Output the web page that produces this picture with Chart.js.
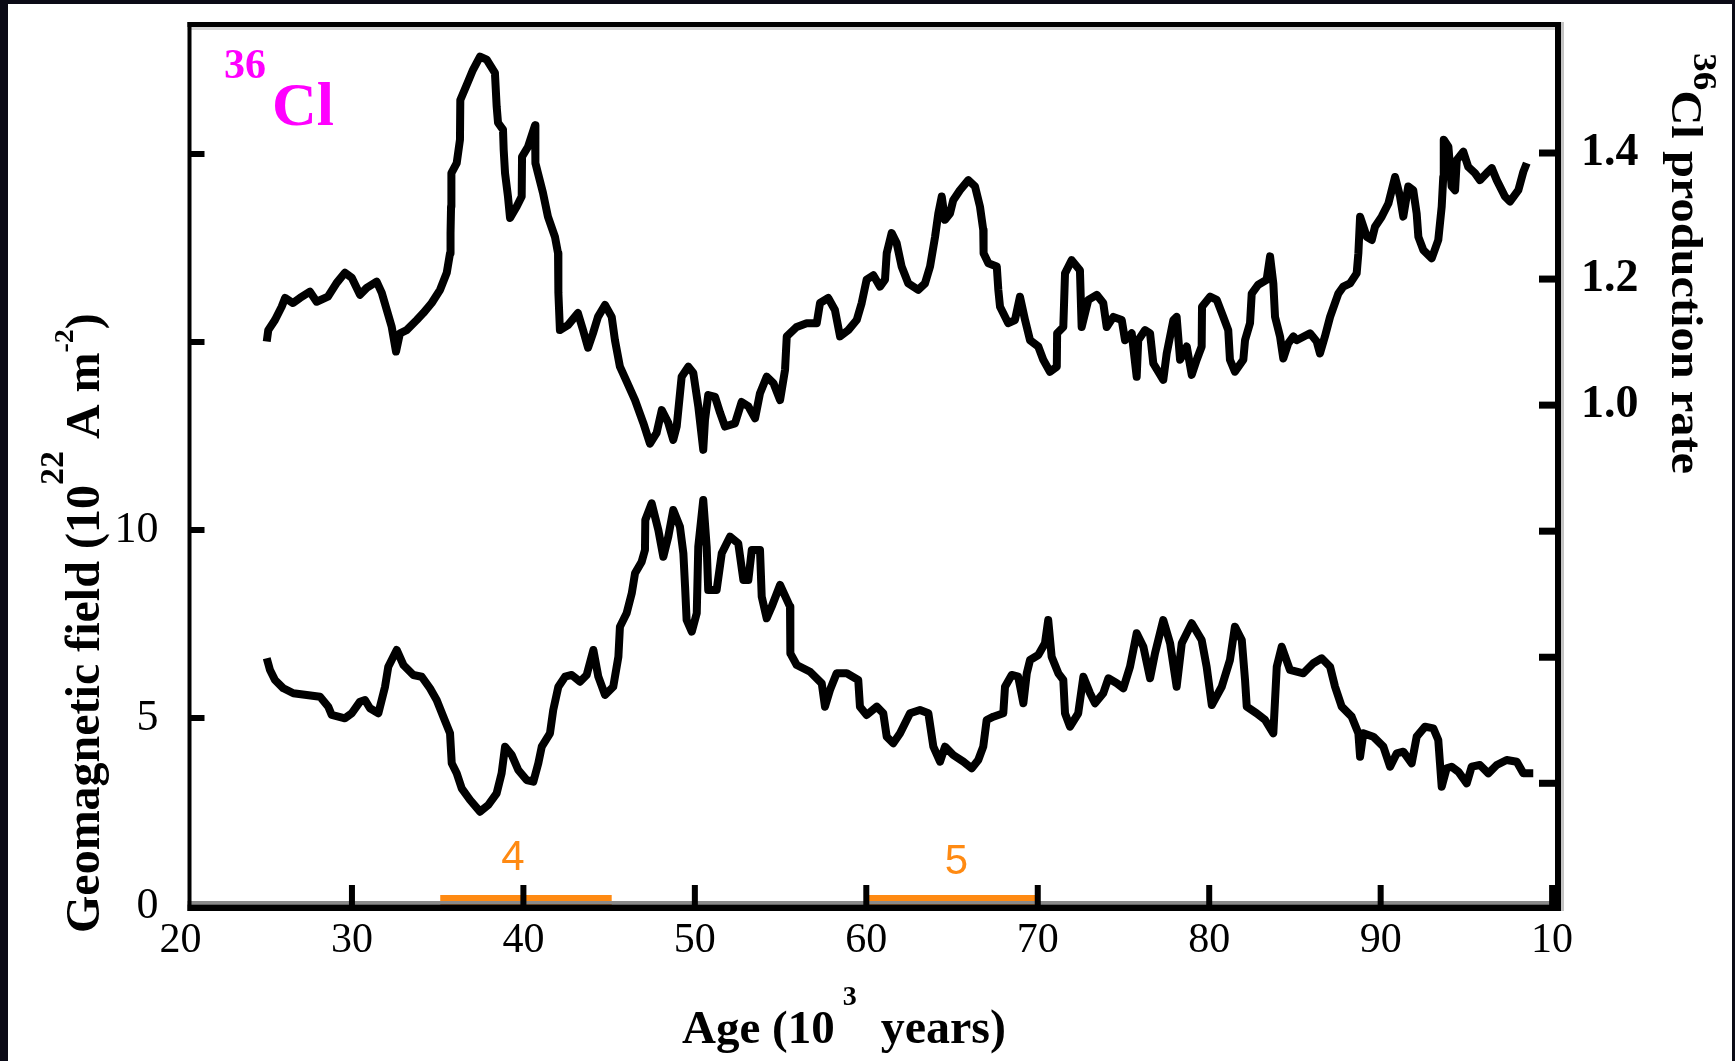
<!DOCTYPE html>
<html>
<head>
<meta charset="utf-8">
<title>36Cl production rate and geomagnetic field</title>
<script src="https://cdn.jsdelivr.net/npm/chart.js@4.4.1/dist/chart.umd.min.js"></script>
<style>
html, body { margin: 0; padding: 0; background: #0b0a16; overflow: hidden; }
canvas { display: block; }
</style>
</head>
<body>
<canvas id="myChart" width="1735" height="1061"></canvas>
<script>
// age axis (10^3 years)
const ageTicks = [20, 30, 40, 50, 60, 70, 80, 90, 100];
const ageTickLabels = ["20", "30", "40", "50", "60", "70", "80", "90", "10"];

// left axis: geomagnetic field
const fieldTicks = [0, 5, 10, 15, 20];
const fieldTickLabels = ["0", "5", "10", "", ""];

// right axis: 36Cl production rate
const rateTicks = [0.4, 0.6, 0.8, 1.0, 1.2, 1.4];
const rateTickLabels = ["", "", "", "1.0", "1.2", "1.4"];

// 36Cl production rate curve
const ageRate = [
  25.03, 25.12, 25.51, 25.90, 26.10, 26.56, 26.97, 27.55, 27.94, 28.60,
  29.11, 29.59, 29.99, 30.47, 30.86, 31.44, 31.74, 32.03, 32.32, 32.57,
  32.80, 33.19, 33.78, 34.16, 34.65, 35.14, 35.53, 35.72, 35.75, 35.78,
  35.80, 36.11, 36.30, 36.32, 36.69, 37.06, 37.47, 37.86, 38.34, 38.44,
  38.52, 38.81, 38.85, 38.93, 39.10, 39.22, 39.61, 39.90, 39.92, 40.27,
  40.68, 40.70, 40.85, 41.14, 41.43, 41.84, 42.02, 42.04, 42.13, 42.60,
  43.18, 43.48, 43.77, 44.06, 44.35, 44.76, 45.15, 45.34, 45.63, 45.98,
  46.51, 46.99, 47.38, 47.77, 48.07, 48.45, 48.74, 48.94, 49.23, 49.62,
  49.91, 50.20, 50.49, 50.59, 50.78, 51.18, 51.47, 51.76, 52.34, 52.73,
  53.12, 53.51, 53.80, 54.19, 54.58, 54.97, 55.26, 55.36, 55.94, 56.52,
  57.11, 57.30, 57.78, 58.17, 58.47, 58.95, 59.44, 59.73, 60.02, 60.41,
  60.80, 61.09, 61.19, 61.48, 61.77, 62.06, 62.45, 63.03, 63.42, 63.72,
  64.01, 64.20, 64.40, 64.59, 64.88, 65.07, 65.46, 65.95, 66.34, 66.63,
  66.82, 66.84, 67.12, 67.61, 67.70, 67.80, 68.28, 68.67, 68.96, 69.26,
  69.55, 70.03, 70.32, 70.71, 71.11, 71.13, 71.49, 71.59, 71.98, 72.46,
  72.56, 72.95, 73.44, 73.82, 74.02, 74.41, 74.90, 75.09, 75.48, 75.77,
  75.86, 76.26, 76.55, 76.74, 77.32, 77.52, 77.91, 78.10, 78.30, 78.69,
  78.98, 79.27, 79.56, 79.58, 80.05, 80.44, 80.82, 81.11, 81.21, 81.50,
  81.99, 82.09, 82.38, 82.48, 82.86, 83.35, 83.55, 83.74, 83.84, 84.13,
  84.32, 84.61, 84.91, 85.10, 85.88, 86.27, 86.46, 86.75, 87.05, 87.53,
  87.82, 88.21, 88.60, 88.70, 88.80, 89.19, 89.48, 89.67, 90.06, 90.45,
  90.84, 91.13, 91.32, 91.61, 91.90, 92.10, 92.20, 92.49, 92.98, 93.36,
  93.56, 93.65, 93.68, 93.95, 94.14, 94.34, 94.44, 94.82, 95.11, 95.50,
  95.79, 96.18, 96.48, 96.77, 97.25, 97.54, 98.03, 98.32, 98.52
];
const clRate = [
  1.101, 1.119, 1.135, 1.156, 1.170, 1.162, 1.170, 1.180, 1.164, 1.172,
  1.194, 1.210, 1.202, 1.175, 1.186, 1.196, 1.178, 1.151, 1.124, 1.085,
  1.114, 1.119, 1.135, 1.146, 1.162, 1.183, 1.210, 1.241, 1.273, 1.315,
  1.368, 1.384, 1.421, 1.484, 1.508, 1.532, 1.553, 1.548, 1.527, 1.474,
  1.448, 1.437, 1.405, 1.368, 1.331, 1.297, 1.315, 1.331, 1.394, 1.410,
  1.444, 1.384, 1.368, 1.337, 1.299, 1.267, 1.241, 1.178, 1.119, 1.127,
  1.146, 1.119, 1.091, 1.114, 1.140, 1.159, 1.140, 1.103, 1.061, 1.040,
  1.008, 0.972, 0.939, 0.956, 0.992, 0.972, 0.945, 0.966, 1.045, 1.061,
  1.051, 0.998, 0.929, 0.976, 1.016, 1.013, 0.988, 0.966, 0.971, 1.005,
  0.998, 0.979, 1.019, 1.045, 1.035, 1.008, 1.056, 1.109, 1.124, 1.130,
  1.130, 1.162, 1.170, 1.151, 1.109, 1.119, 1.135, 1.162, 1.199, 1.206,
  1.188, 1.199, 1.241, 1.273, 1.257, 1.220, 1.193, 1.183, 1.193, 1.220,
  1.267, 1.304, 1.331, 1.294, 1.304, 1.325, 1.341, 1.357, 1.347, 1.315,
  1.278, 1.241, 1.225, 1.220, 1.183, 1.156, 1.130, 1.135, 1.172, 1.135,
  1.103, 1.093, 1.072, 1.053, 1.061, 1.114, 1.124, 1.209, 1.230, 1.214,
  1.124, 1.167, 1.175, 1.162, 1.124, 1.140, 1.135, 1.103, 1.114, 1.045,
  1.103, 1.119, 1.114, 1.066, 1.040, 1.082, 1.135, 1.140, 1.072, 1.093,
  1.048, 1.072, 1.093, 1.156, 1.172, 1.167, 1.140, 1.119, 1.072, 1.053,
  1.072, 1.103, 1.130, 1.177, 1.191, 1.199, 1.236, 1.193, 1.140, 1.109,
  1.074, 1.098, 1.109, 1.103, 1.114, 1.101, 1.082, 1.109, 1.140, 1.177,
  1.188, 1.193, 1.209, 1.241, 1.299, 1.267, 1.262, 1.283, 1.299, 1.320,
  1.362, 1.331, 1.299, 1.347, 1.341, 1.304, 1.267, 1.246, 1.233, 1.262,
  1.315, 1.362, 1.421, 1.410, 1.347, 1.341, 1.389, 1.402, 1.378, 1.368,
  1.357, 1.368, 1.376, 1.357, 1.331, 1.323, 1.341, 1.370, 1.384
];

// geomagnetic field curve (10^22 A m^-2)
const ageField = [
  25.03, 25.22, 25.51, 26.00, 26.58, 27.36, 28.14, 28.62, 28.82, 29.59,
  29.99, 30.47, 30.76, 31.05, 31.54, 31.93, 32.12, 32.61, 33.00, 33.58,
  34.07, 34.55, 34.94, 35.33, 35.72, 35.82, 36.11, 36.40, 36.89, 37.47,
  37.95, 38.44, 38.73, 38.93, 39.32, 39.70, 40.19, 40.58, 40.87, 41.07,
  41.55, 41.74, 42.04, 42.43, 42.82, 43.30, 43.69, 44.08, 44.37, 44.76,
  45.24, 45.54, 45.63, 46.02, 46.32, 46.51, 46.90, 47.09, 47.11, 47.48,
  47.87, 48.16, 48.45, 48.74, 49.13, 49.33, 49.43, 49.52, 49.82, 50.11,
  50.20, 50.49, 50.69, 50.78, 51.27, 51.57, 52.05, 52.53, 52.83, 53.12,
  53.32, 53.80, 53.90, 54.19, 54.48, 54.97, 55.55, 55.57, 55.94, 56.72,
  57.40, 57.59, 57.88, 58.27, 58.86, 59.53, 59.63, 60.02, 60.61, 60.99,
  61.19, 61.57, 61.97, 62.55, 63.13, 63.62, 63.91, 64.30, 64.59, 65.07,
  65.66, 66.15, 66.53, 66.82, 67.02, 67.41, 67.99, 68.09, 68.48, 68.86,
  69.16, 69.36, 69.55, 70.03, 70.42, 70.61, 70.81, 71.20, 71.49, 71.59,
  71.88, 72.36, 72.66, 73.05, 73.34, 73.82, 74.12, 74.61, 74.99, 75.38,
  75.77, 76.16, 76.55, 76.84, 77.32, 77.72, 78.10, 78.40, 78.98, 79.56,
  79.85, 80.15, 80.73, 81.21, 81.50, 81.90, 82.09, 82.19, 82.77, 83.26,
  83.74, 83.94, 84.23, 84.71, 85.49, 86.07, 86.56, 87.05, 87.34, 87.73,
  88.31, 88.70, 88.80, 88.99, 89.57, 90.16, 90.55, 90.94, 91.32, 91.81,
  92.10, 92.59, 93.07, 93.36, 93.46, 93.56, 93.85, 94.14, 94.53, 95.02,
  95.31, 95.79, 96.28, 96.77, 97.35, 97.94, 98.32, 98.90
];
const fieldValue = [
  6.588, 6.277, 6.011, 5.790, 5.657, 5.612, 5.566, 5.301, 5.080, 4.992,
  5.125, 5.434, 5.479, 5.258, 5.125, 5.832, 6.364, 6.809, 6.410, 6.144,
  6.098, 5.790, 5.479, 5.035, 4.593, 3.795, 3.529, 3.130, 2.819, 2.508,
  2.686, 2.997, 3.529, 4.237, 4.016, 3.617, 3.351, 3.306, 3.795, 4.237,
  4.593, 5.213, 5.832, 6.098, 6.144, 5.965, 6.144, 6.809, 6.098, 5.612,
  5.832, 6.630, 7.428, 7.785, 8.316, 8.848, 9.157, 9.468, 10.266, 10.710,
  10.000, 9.290, 9.822, 10.532, 10.088, 9.380, 8.492, 7.606, 7.295, 7.785,
  9.556, 10.798, 9.556, 8.404, 8.404, 9.380, 9.822, 9.646, 8.670, 8.670,
  9.468, 9.468, 8.226, 7.652, 7.960, 8.537, 7.960, 6.721, 6.410, 6.231,
  5.923, 5.301, 5.745, 6.189, 6.189, 6.011, 5.301, 5.080, 5.301, 5.125,
  4.503, 4.327, 4.593, 5.125, 5.213, 5.125, 4.237, 3.838, 4.237, 4.016,
  3.838, 3.662, 3.883, 4.237, 4.947, 5.035, 5.125, 5.832, 6.144, 6.098,
  5.391, 6.189, 6.543, 6.676, 6.987, 7.606, 6.630, 6.189, 6.011, 5.125,
  4.769, 5.125, 6.098, 5.657, 5.391, 5.657, 6.056, 5.923, 5.790, 6.364,
  7.253, 6.896, 6.056, 6.721, 7.606, 6.987, 5.832, 6.987, 7.519, 7.074,
  6.364, 5.346, 5.832, 6.543, 7.428, 7.074, 6.011, 5.301, 5.125, 4.947,
  4.593, 6.364, 6.896, 6.277, 6.189, 6.455, 6.588, 6.364, 5.832, 5.301,
  5.035, 4.593, 3.971, 4.593, 4.503, 4.237, 3.705, 4.061, 4.104, 3.795,
  4.503, 4.769, 4.726, 4.415, 3.795, 3.173, 3.662, 3.705, 3.572, 3.263,
  3.705, 3.750, 3.529, 3.750, 3.883, 3.838, 3.529, 3.529
];

// stages 4 and 5 on the age axis
const stageNames = ["4", "5"];
const stageStart = [35.15, 60.12];
const stageEnd = [45.15, 70.03];

const serif = "'Liberation Serif', 'Times New Roman', serif";
const orange = "#ff8a12";

// draws text pieces one after another along a (possibly rotated) baseline
function drawRich(ctx, parts, x, y, angle, stretch) {
    ctx.save();
    ctx.translate(x, y);
    ctx.rotate(angle);
    ctx.scale(stretch || 1, 1);
    ctx.textAlign = "left";
    ctx.textBaseline = "alphabetic";
    let pos = 0;
    parts.forEach(function (p) {
        ctx.font = p.font;
        pos += p.gap || 0;
        ctx.fillText(p.text, pos, -(p.rise || 0));
        pos += ctx.measureText(p.text).width;
    });
    ctx.restore();
}

// scales keep their own size, no extra room for half labels
function noScalePadding(s) {
    s.paddingTop = 0;
    s.paddingBottom = 0;
    s.paddingLeft = 0;
    s.paddingRight = 0;
}

const backdrop = {
    id: "backdrop",
    beforeDraw(chart) {
        const c = chart.ctx;
        c.save();
        c.fillStyle = "#0b0a16";
        c.fillRect(0, 0, chart.width, chart.height);
        c.fillStyle = "#ffffff";
        c.fillRect(8, 4, chart.width - 11, chart.height - 4);
        c.restore();
    }
};

const decorations = {
    id: "decorations",
    afterDatasetsDraw(chart) {
        const c = chart.ctx;
        const a = chart.chartArea;
        const sx = chart.scales.x, sy = chart.scales.y, sr = chart.scales.y1;
        c.save();

        // frame
        const L = a.left - 2, R = a.right + 4, T = a.top - 2.5, B = a.bottom + 5;
        c.fillStyle = "#d6d6d6";
        c.fillRect(L, T + 5, R - L, 3);
        c.fillStyle = "#c4c4c4";
        c.fillRect(R, T, 3, B - T);
        c.fillStyle = "#8a8a8a";
        c.fillRect(L, a.bottom - 5, R - L, 3.5);
        c.fillStyle = "#000";
        c.fillRect(L, T, 4, B - T);
        c.fillRect(L, T, R - L, 5);
        c.fillRect(R - 6, T, 6, B - T);
        c.fillRect(L, a.bottom - 1.5, R - L, 6.5);

        // inward tick marks
        sx.ticks.forEach(function (t) {
            const px = sx.getPixelForValue(t.value);
            if (px > a.left + 4 && px < a.right - 4) c.fillRect(px - 3, a.bottom - 21, 6, 20);
        });
        sy.ticks.forEach(function (t) {
            const py = sy.getPixelForValue(t.value);
            if (py > a.top + 4 && py < a.bottom - 4) c.fillRect(a.left, py - 3, 15, 6);
        });
        sr.ticks.forEach(function (t) {
            const py = sr.getPixelForValue(t.value);
            if (py > a.top + 4 && py < a.bottom - 4) c.fillRect(a.right - 18, py - 3.5, 18, 7);
        });

        // stage numbers above the orange bars
        const shift = [[-13, -48], [3, -44]];
        c.fillStyle = orange;
        c.font = "42px 'Liberation Sans', Arial, sans-serif";
        c.textAlign = "center";
        c.textBaseline = "middle";
        stageNames.forEach(function (name, i) {
            const mid = (sx.getPixelForValue(stageStart[i]) + sx.getPixelForValue(stageEnd[i])) / 2;
            c.fillText(name, mid + shift[i][0], a.bottom + shift[i][1]);
        });

        // 36Cl label inside the plot
        c.fillStyle = "#ff00ff";
        drawRich(c, [{ text: "36", font: "bold 42px " + serif }], 224, 78, 0);
        drawRich(c, [{ text: "Cl", font: "bold 62px " + serif }], 272, 125, 0);

        // axis titles
        c.fillStyle = "#000";
        drawRich(c, [
            { text: "Age (10", font: "bold 47px " + serif },
            { text: "3", font: "bold 28px " + serif, rise: 38, gap: 8 },
            { text: " years)", font: "bold 48px " + serif, gap: 12 }
        ], 682, 1043, 0);
        drawRich(c, [
            { text: "Geomagnetic field (10", font: "bold 48px " + serif },
            { text: "22", font: "bold 34px " + serif, rise: 36 },
            { text: " A m", font: "bold 48px " + serif },
            { text: "-2", font: "bold 28px " + serif, rise: 26 },
            { text: ")", font: "bold 48px " + serif }
        ], 99, 933, -Math.PI / 2);
        drawRich(c, [
            { text: "36", font: "bold 34px " + serif, rise: 22 },
            { text: "Cl production rate", font: "bold 44px " + serif }
        ], 1672, 53, Math.PI / 2, 1.1);

        c.restore();
    }
};

const datasets = [
    {
        label: "36Cl production rate",
        data: ageRate.map(function (a, i) { return { x: a, y: clRate[i] }; }),
        yAxisID: "y1",
        borderColor: "#000",
        borderWidth: 8,
        borderJoinStyle: "round",
        pointRadius: 0,
        tension: 0,
        fill: false
    },
    {
        label: "Geomagnetic field",
        data: ageField.map(function (a, i) { return { x: a, y: fieldValue[i] }; }),
        yAxisID: "y",
        borderColor: "#000",
        borderWidth: 8,
        borderJoinStyle: "round",
        pointRadius: 0,
        tension: 0,
        fill: false
    }
];
stageNames.forEach(function (name, i) {
    datasets.push({
        label: "Stage " + name,
        data: [{ x: stageStart[i], y: 0.16 }, { x: stageEnd[i], y: 0.16 }],
        yAxisID: "y",
        borderColor: orange,
        borderWidth: 10,
        borderCapStyle: "butt",
        pointRadius: 0,
        fill: false
    });
});

var ctx = document.getElementById("myChart").getContext("2d");
Chart.defaults.font.family = serif;

let myChart = new Chart(ctx, {
    type: "line",
    data: { datasets: datasets },
    options: {
        responsive: false,
        animation: false,
        events: [],
        layout: { padding: { left: 0, right: 0, top: 24.5, bottom: 0 } },
        plugins: {
            legend: { display: false },
            tooltip: { enabled: false }
        },
        scales: {
            x: {
                type: "linear",
                position: "bottom",
                min: 20.525,
                max: 100.285,
                grid: { display: false, drawTicks: false },
                border: { display: false },
                afterBuildTicks: function (s) { s.ticks = ageTicks.map(function (v) { return { value: v }; }); },
                afterFit: function (s) { s.height = 155; noScalePadding(s); },
                ticks: {
                    autoSkip: false,
                    maxRotation: 0,
                    padding: 10,
                    color: "#000",
                    font: { family: serif, size: 42 },
                    callback: function (v, i) { return ageTickLabels[i]; }
                }
            },
            y: {
                type: "linear",
                position: "left",
                min: 0,
                max: 23.444,
                grid: { display: false, drawTicks: false },
                border: { display: false },
                afterBuildTicks: function (s) { s.ticks = fieldTicks.map(function (v) { return { value: v }; }); },
                afterFit: function (s) { s.width = 189.5; noScalePadding(s); },
                ticks: {
                    padding: 31,
                    color: "#000",
                    font: { family: serif, size: 44 },
                    callback: function (v, i) { return fieldTickLabels[i]; }
                }
            },
            y1: {
                type: "linear",
                position: "right",
                min: 0.2053,
                max: 1.6039,
                grid: { display: false, drawTicks: false },
                border: { display: false },
                afterBuildTicks: function (s) { s.ticks = rateTicks.map(function (v) { return { value: v }; }); },
                afterFit: function (s) { s.width = 178; noScalePadding(s); },
                ticks: {
                    padding: 24,
                    color: "#000",
                    font: { family: serif, size: 46, weight: "bold" },
                    callback: function (v, i) { return rateTickLabels[i]; }
                }
            }
        }
    },
    plugins: [backdrop, decorations]
});
</script>
</body>
</html>
